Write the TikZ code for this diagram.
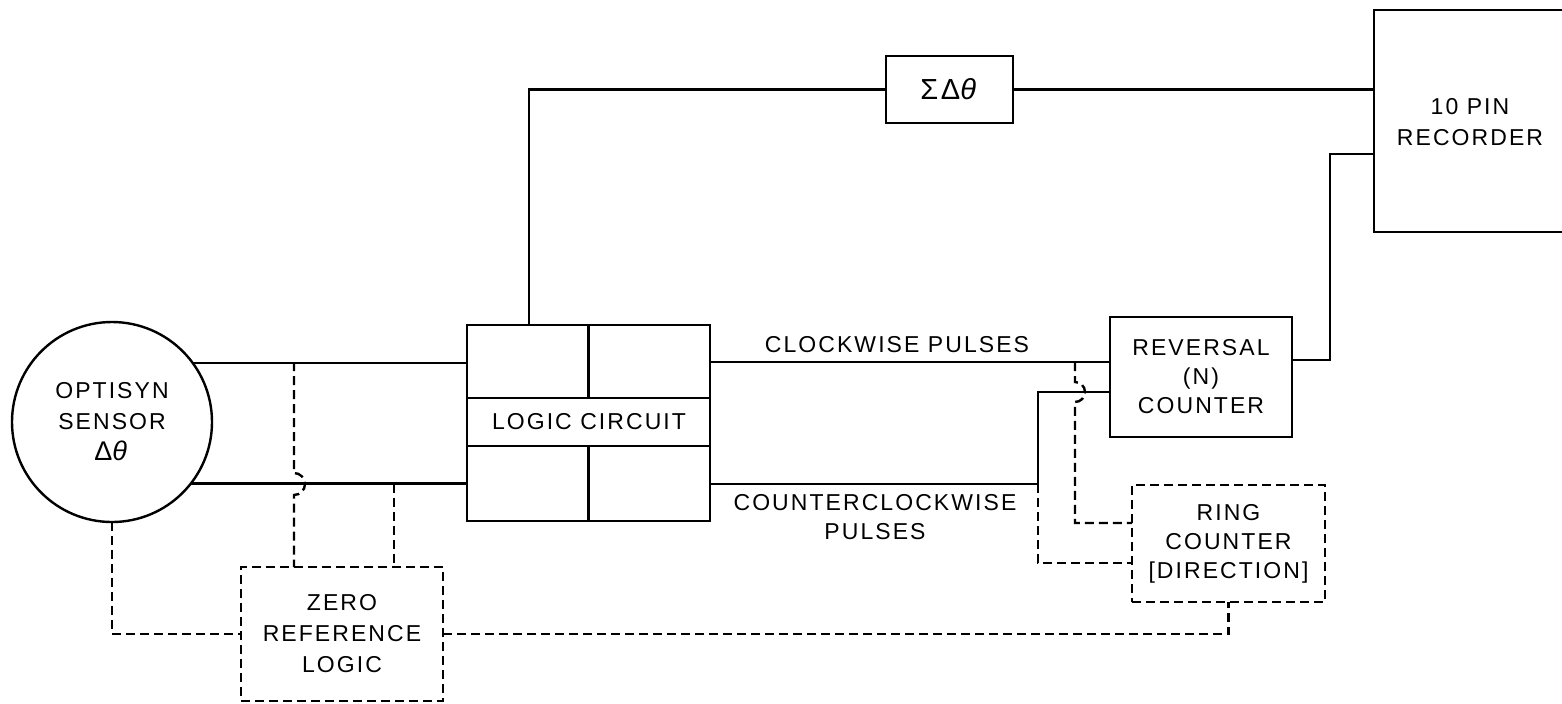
\documentclass[tikz,border=0pt]{standalone}
\usepackage{fontspec}
\setmainfont{Liberation Sans}[LetterSpace=9]
\begin{document}
\begin{tikzpicture}[x=0.5pt,y=-0.5pt,line width=1.2pt,
  box/.style={draw,rectangle,inner sep=0pt,outer sep=0pt},
  dline/.style={dash pattern=on 4.5pt off 2.5pt},
  dbox/.style={box,dline},
  txt/.style={font=\fontsize{11.5}{15.5}\selectfont,align=center},
  txtb/.style={font=\fontsize{11.5}{14.5}\selectfont,align=center}]
\useasboundingbox (0,0) rectangle (1562,703);
% nodes
\node[draw,circle,minimum size=100pt,inner sep=0pt,outer sep=0pt,txt] (sensor) at (112,422) {OPTISYN\\SENSOR\\{\fontsize{13.5}{15.5}\selectfont Δ\textit{θ}}};
\node[box,minimum width=121.5pt,minimum height=98pt] (logic) at (588.5,423) {};
\node[txt] (logictext) at (589,422) {LOGIC CIRCUIT};
\node[box,minimum width=63.5pt,minimum height=33.5pt,font=\fontsize{14.5}{16}\selectfont] (sigma) at (949.5,89.5) {ΣΔ\textit{θ}};
\coordinate (recNW) at (1374,10);
\coordinate (recSW) at (1374,232);
\coordinate (recin) at (1374,154);
\node[txt] (recorder) at (1470,122) {10 PIN\\RECORDER};
\node[box,minimum width=91pt,minimum height=60pt,txtb] (reversal) at (1201,377) {REVERSAL\\(N)\\COUNTER};
\node[dbox,minimum width=96.5pt,minimum height=58.5pt,txtb] (ring) at (1228.5,543.5) {RING\\COUNTER\\\relax[DIRECTION]};
\node[dbox,minimum width=101pt,minimum height=67pt,txt] (zero) at (342,634) {ZERO\\REFERENCE\\LOGIC};
\node[txt] (cwlabel) at (897,345) {CLOCKWISE PULSES};
\node[txtb] (ccwlabel) at (875,517) {COUNTERCLOCKWISE\\PULSES};
% recorder outline (open to the right)
\draw (1564,10) -- (recNW) -- (recSW) -- (1564,232);
% logic circuit internals
\draw ([yshift=12.5pt]logic.west) -- ([yshift=12.5pt]logic.east);
\draw ([yshift=-11.5pt]logic.west) -- ([yshift=-11.5pt]logic.east);
\draw (logic.north) -- ([yshift=12.5pt]logic.center);
\draw (logic.south) -- ([yshift=-11.5pt]logic.center);
% solid connectors
\draw (sensor.36.87) -- (sensor.36.87 -| logic.west);
\draw (sensor.-38.3) -- (sensor.-38.3 -| logic.west);
\coordinate (cwin) at ([yshift=7.5pt]reversal.west);
\coordinate (ccwin) at ([yshift=-7.5pt]reversal.west);
\coordinate (ccwbend) at (1038,484);
\draw (logic.east |- cwin) -- (cwin);
\draw (logic.east |- ccwbend) -- (ccwbend) |- (ccwin);
\draw ([xshift=-29.75pt]logic.north) |- (sigma.west);
\draw (sigma.east) -- (sigma.east -| recNW);
\draw ([yshift=8.5pt]reversal.east) -- ++(19pt,0) |- (recin);
% dashed connectors
\coordinate (hopA) at (1075,362);
\coordinate (ringin1) at ([yshift=10.25pt]ring.west);
\coordinate (ringin2) at ([yshift=-9.75pt]ring.west);
\draw[dline] (hopA) -- ++(0,20) arc[start angle=90,end angle=-90,radius=5pt] |- (ringin1);
\draw[dline] (ccwbend) |- (ringin2);
\coordinate (hopB) at (294,362);
\coordinate (tapB) at (394,484);
\draw[dline] (hopB) -- ++(0,111) arc[start angle=90,end angle=-90,radius=5.5pt] -- ([xshift=-24pt]zero.north);
\draw[dline] (tapB) -- ([xshift=26pt]zero.north);
\draw[dline] (sensor.south) |- (zero.west);
\draw[dline] (zero.east) -| (ring.south);
\end{tikzpicture}
\end{document}
